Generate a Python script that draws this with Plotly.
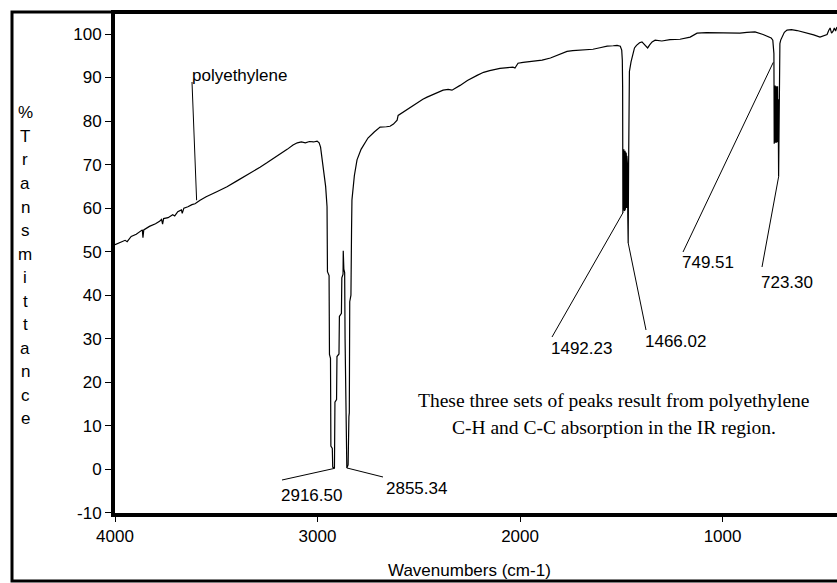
import plotly.graph_objects as go

# ---------------- data ----------------
wavenumber = [
    4000, 3970, 3950, 3940, 3920, 3895, 3875, 3865, 3862, 3858, 3830, 3800, 3780, 3770, 3765, 3760,
    3738, 3715, 3705, 3690, 3672, 3668, 3660, 3640, 3620, 3605, 3580, 3550, 3500, 3447, 3400, 3350,
    3284, 3250, 3200, 3150, 3121, 3100, 3080, 3060, 3040, 3020, 3002, 2992, 2985, 2978, 2968, 2960,
    2953, 2951, 2943, 2941, 2936, 2934, 2927, 2925, 2916.5, 2914, 2906, 2904, 2894, 2892, 2882, 2880,
    2874, 2873, 2870, 2866, 2864, 2860, 2858, 2855.3, 2853, 2849, 2845, 2843, 2841, 2835, 2832, 2830,
    2818, 2805, 2785, 2765, 2751, 2720, 2700, 2691, 2660, 2642, 2625, 2607, 2602, 2570, 2543, 2509,
    2480, 2459, 2420, 2380, 2355, 2336, 2296, 2260, 2212, 2180, 2150, 2099, 2060, 2035, 2025, 2010,
    1985, 1950, 1891, 1850, 1802, 1768, 1740, 1700, 1640, 1600, 1570, 1540, 1521, 1505, 1498, 1495,
    1493.5, 1492.23, 1490.5, 1489, 1487.5, 1486, 1484.5, 1483, 1481.5, 1480, 1478.5, 1477, 1475.5,
    1474, 1472.5, 1471, 1469.5, 1468, 1466.02, 1464, 1462, 1460, 1452, 1445, 1435, 1425, 1410, 1398,
    1385, 1370, 1360, 1348, 1333, 1300, 1260, 1210, 1160, 1126, 1080, 1000, 950, 914, 880, 840, 800,
    780, 760, 752, 748, 746.5, 745, 743.5, 742, 740.5, 739, 737.5, 736, 734.5, 733, 731.5, 730, 728.5,
    727, 725.5, 723.3, 721.5, 719.5, 717, 713, 705, 695, 682, 660, 632, 605, 583, 550, 519, 500, 484,
    476, 469, 462, 455, 448, 442, 435,
]
transmittance = [
    51.6, 52.3, 52.6, 52.3, 53.5, 54.0, 54.6, 55.0, 53.2, 55.0, 55.8, 56.4, 57.0, 57.4, 56.3, 57.6,
    57.8, 58.5, 58.2, 59.2, 59.6, 58.8, 60.0, 60.3, 60.8, 61.0, 61.8, 62.6, 63.7, 64.9, 66.2, 67.5,
    69.4, 70.4, 71.9, 73.5, 74.5, 75.0, 75.2, 75.0, 75.3, 75.2, 75.4, 75.0, 74.0, 71.7, 68.5, 65.0,
    60.3, 45.4, 44.5, 26.4, 25.5, 5.3, 4.8, 0.5, 0.2, 15.4, 16.0, 25.9, 26.5, 35.1, 35.8, 44.0,
    44.8, 50.2, 46.0, 45.2, 30.0, 10.0, 3.0, 0.3, 0.5, 1.0, 12.1, 13.0, 38.5, 40.0, 55.0, 61.9,
    67.5, 71.1, 73.5, 75.2, 76.1, 77.5, 78.4, 78.6, 78.7, 78.8, 79.3, 80.2, 81.3, 82.3, 83.2, 84.1,
    85.0, 85.5, 86.3, 87.1, 87.3, 87.1, 88.2, 89.3, 90.5, 91.2, 91.6, 92.1, 92.3, 92.4, 92.2, 93.3,
    93.5, 93.7, 94.0, 94.5, 95.3, 96.0, 96.2, 96.3, 96.5, 96.9, 97.2, 97.3, 97.4, 97.2, 96.3, 94.0,
    88.0, 58.9, 73.0, 59.3, 73.5, 59.5, 73.0, 59.4, 73.2, 59.6, 72.8, 59.8, 72.5,
    60.0, 72.0, 60.5, 70.0, 58.0, 52.0, 70.0, 86.0, 91.4, 93.6, 95.0, 96.8, 97.4, 98.0, 98.2,
    97.6, 96.8, 97.5, 98.2, 98.6, 98.4, 98.7, 98.8, 99.3, 100.2, 100.3, 100.2, 100.1, 100.2, 100.4, 100.5, 99.9,
    99.5, 99.1, 98.6, 97.2, 95.5, 74.8, 88.0, 74.9, 88.2, 75.0, 88.0, 75.0, 88.0, 75.0, 88.0, 75.0, 88.0,
    75.2, 85.0, 67.2, 88.5, 95.0, 97.8, 98.6, 99.6, 100.4, 100.9, 101.0, 100.8, 100.5, 100.2, 99.8, 99.3, 99.6, 99.9,
    100.8, 101.4, 100.2, 100.6, 101.4, 100.7, 101.6,
]

# labelled peaks: (label text, tip wavenumber, tip %T)
peak_labels = ["polyethylene", "2916.50", "2855.34", "1492.23", "1466.02", "749.51", "723.30"]
peak_wn = [3597, 2916.50, 2855.34, 1492.23, 1466.02, 749.51, 723.30]
peak_T = [61.8, 0.2, 0.3, 58.9, 52.0, 93.5, 67.2]

x_ticks = [4000, 3000, 2000, 1000]
x_tick_labels = ["4000", "3000", "2000", "1000"]
y_ticks = [-10, 0, 10, 20, 30, 40, 50, 60, 70, 80, 90, 100]
y_tick_labels = ["-10", "0", "10", "20", "30", "40", "50", "60", "70", "80", "90", "100"]

y_title = "%Transmittance"
x_title = "Wavenumbers (cm-1)"
note_lines = ["These three sets of peaks result from polyethylene",
              "C-H and C-C absorption in the IR region."]

# ---------------- layout helpers ----------------
W, H = 837, 583
L, T_, B, R = 115, 14, 70, 0
PW = W - L - R
PH = H - T_ - B


def pxx(px):
    return (px - L) / PW


def pxy(py):
    return (H - B - py) / PH


SANS = "Liberation Sans, Arial, sans-serif"
SERIF = "Liberation Serif, Times New Roman, serif"

# label anchor positions (leader tail, text left-middle) in pixels
leader_tail_px = [(192, 82), (282, 480), (383, 477), (552, 337), (646, 330), (683, 252), (762, 267)]
text_px = [(190, 75), (279, 495), (384, 488), (549, 348), (643, 341), (680, 262), (759, 282)]

fig = go.Figure()
fig.add_trace(go.Scatter(x=wavenumber, y=transmittance, mode="lines",
                         line=dict(color="black", width=1.2), hoverinfo="skip",
                         showlegend=False))

shapes = []
annotations = []
x0r, x1r = 4000, 435
y0r, y1r = -10.05, 104.6


def px_to_data(px, py):
    xd = x0r + (px - L) / PW * (x1r - x0r)
    yd = y0r + (H - B - py) / PH * (y1r - y0r)
    return xd, yd


for lab, wn, tv, tail, tp in zip(peak_labels, peak_wn, peak_T, leader_tail_px, text_px):
    tx, ty = px_to_data(*tail)
    shapes.append(dict(type="line", xref="x", yref="y", x0=wn, y0=tv, x1=tx, y1=ty,
                       line=dict(color="black", width=1)))
    annotations.append(dict(text=lab, xref="paper", yref="paper", x=pxx(tp[0]), y=pxy(tp[1]),
                            xanchor="left", yanchor="middle", showarrow=False,
                            font=dict(family=SANS, size=17, color="black")))

# outer frame
shapes.append(dict(type="rect", xref="paper", yref="paper",
                   x0=pxx(12), x1=pxx(W + 10), y0=pxy(581), y1=pxy(12),
                   line=dict(color="black", width=3)))

# vertical y-axis title, one letter per row
for i, ch in enumerate(y_title):
    annotations.append(dict(text=ch, xref="paper", yref="paper", x=pxx(25), y=pxy(113 + i * 23.5),
                            xanchor="center", yanchor="middle", showarrow=False,
                            font=dict(family=SANS, size=17, color="black")))

annotations.append(dict(text=x_title, xref="paper", yref="paper", x=pxx(469), y=pxy(570),
                        xanchor="center", yanchor="middle", showarrow=False,
                        font=dict(family=SANS, size=17, color="black")))

for i, line in enumerate(note_lines):
    annotations.append(dict(text=line, xref="paper", yref="paper", x=pxx(614), y=pxy(400 + i * 27),
                            xanchor="center", yanchor="middle", showarrow=False,
                            font=dict(family=SERIF, size=19.5, color="black")))

fig.update_layout(
    width=W, height=H,
    margin=dict(l=L, r=R, t=T_, b=B, pad=0),
    paper_bgcolor="white", plot_bgcolor="white",
    showlegend=False,
    shapes=shapes, annotations=annotations,
    xaxis=dict(range=[x0r, x1r], tickvals=x_ticks, ticktext=x_tick_labels, ticks="outside",
               ticklen=5, tickwidth=1,
               tickcolor="black", showline=True, linewidth=4, linecolor="black", mirror=True,
               showgrid=False, zeroline=False,
               tickfont=dict(family=SANS, size=17, color="black")),
    yaxis=dict(range=[y0r, y1r], tickvals=y_ticks, ticktext=y_tick_labels, ticks="outside",
               ticklen=6, tickwidth=1,
               tickcolor="black", showline=True, linewidth=4, linecolor="black",
               showgrid=False, zeroline=False,
               tickfont=dict(family=SANS, size=17, color="black")),
)

fig.write_html("out.html", config={"displayModeBar": False},
               post_script="document.body.style.margin='0px';")
